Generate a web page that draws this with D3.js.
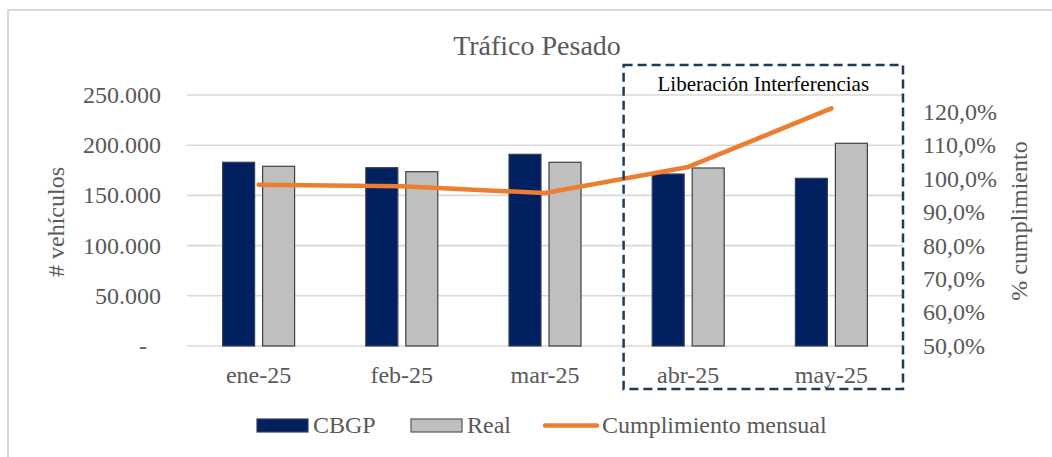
<!DOCTYPE html>
<html>
<head>
<meta charset="utf-8">
<script src="https://cdn.jsdelivr.net/npm/d3@7"></script>
<style>
  body { margin: 0; background: #fff; }
  text { font-family: "Liberation Serif", "Times New Roman", serif; }
</style>
</head>
<body>
<svg width="1052" height="457"></svg>
<script>
// data
const months = ["ene-25", "feb-25", "mar-25", "abr-25", "may-25"];
const cbgp = [183000, 177600, 190900, 171300, 167000];
const real = [179000, 173600, 183000, 177300, 201900];
const cumplimiento = [0.982, 0.977, 0.957, 1.035, 1.210];
const leftTicks = [0, 50000, 100000, 150000, 200000, 250000];
const rightTicks = [0.5, 0.6, 0.7, 0.8, 0.9, 1.0, 1.1, 1.2];
const highlighted = ["abr-25", "may-25"];

const svg = d3.select("svg");
const width = +svg.attr("width");
const height = +svg.attr("height");

// spanish number formats
const es = d3.formatLocale({ decimal: ",", thousands: ".", grouping: [3], currency: ["", ""] });
const fmtNum = es.format(",d");
const fmtPct = es.format(".1%");

const margin = { left: 187, right: 149, top: 95, bottom: 111 };
const plotW = width - margin.left - margin.right;
const y0 = height - margin.bottom;

const x = d3.scaleBand().domain(months).range([margin.left, margin.left + plotW]);
const xSeries = d3.scaleBand().domain(["CBGP", "Real"]).range([-36, 36]).paddingInner(0.2);
const y = d3.scaleLinear().domain([0, 250000]).range([y0, margin.top]);
const y2 = d3.scaleLinear().domain([0.5, 1.25]).range([y0, margin.top]);

const gray = "#595959";

// outer border of the chart area
svg.append("rect")
  .attr("x", 8).attr("y", 10)
  .attr("width", 1200).attr("height", 600)
  .attr("fill", "none").attr("stroke", "#d9d9d9").attr("stroke-width", 2);

// gridlines
svg.append("g").selectAll("line")
  .data(leftTicks)
  .enter().append("line")
    .attr("x1", margin.left).attr("x2", margin.left + plotW)
    .attr("y1", d => y(d)).attr("y2", d => y(d))
    .attr("stroke", "#d9d9d9").attr("stroke-width", 1.6);

// left tick labels
svg.append("g").selectAll("text")
  .data(leftTicks)
  .enter().append("text")
    .attr("x", 161)
    .attr("dx", d => d === 0 ? -14 : 0)
    .attr("y", d => y(d))
    .attr("dy", "0.33em")
    .attr("text-anchor", "end")
    .attr("font-size", 24)
    .attr("fill", gray)
    .text(d => d === 0 ? "-" : fmtNum(d));

// right tick labels
svg.append("g").selectAll("text")
  .data(rightTicks)
  .enter().append("text")
    .attr("x", 923)
    .attr("y", d => y2(d))
    .attr("dy", "0.33em")
    .attr("font-size", 24)
    .attr("fill", gray)
    .text(d => fmtPct(d));

// x labels
svg.append("g").selectAll("text")
  .data(months)
  .enter().append("text")
    .attr("x", d => x(d) + x.bandwidth() / 2)
    .attr("y", 383)
    .attr("text-anchor", "middle")
    .attr("font-size", 24)
    .attr("fill", gray)
    .text(d => d);

// bars
const series = [
  { name: "CBGP", values: cbgp, fill: "#002060", stroke: "#3b3f55" },
  { name: "Real", values: real, fill: "#bfbfbf", stroke: "#404040" }
];

series.forEach(s => {
  svg.append("g").selectAll("rect")
    .data(months)
    .enter().append("rect")
      .attr("x", (d, i) => x(d) + x.bandwidth() / 2 + xSeries(s.name))
      .attr("y", (d, i) => y(s.values[i]))
      .attr("width", xSeries.bandwidth())
      .attr("height", (d, i) => y0 - y(s.values[i]))
      .attr("fill", s.fill)
      .attr("stroke", s.stroke)
      .attr("stroke-width", 1.2);
});

// cumplimiento line
const line = d3.line()
  .x((d, i) => x(months[i]) + x.bandwidth() / 2)
  .y(d => y2(d));

svg.append("path")
  .datum(cumplimiento)
  .attr("d", line)
  .attr("fill", "none")
  .attr("stroke", "#ed7d31")
  .attr("stroke-width", 4.5)
  .attr("stroke-linecap", "round")
  .attr("stroke-linejoin", "round");

// dashed box round the last two months
const boxL = x(highlighted[0]) + 7;
const boxR = x(highlighted[highlighted.length - 1]) + x.bandwidth();
svg.append("rect")
  .attr("x", boxL).attr("y", 65)
  .attr("width", boxR - boxL).attr("height", 324)
  .attr("fill", "none")
  .attr("stroke", "#1f3a5a")
  .attr("stroke-width", 2.5)
  .attr("stroke-dasharray", "9,5");

svg.append("text")
  .attr("x", (boxL + boxR) / 2)
  .attr("y", 91)
  .attr("text-anchor", "middle")
  .attr("font-size", 21)
  .attr("fill", "#000")
  .text("Liberación Interferencias");

// title
svg.append("text")
  .attr("x", 537).attr("y", 55)
  .attr("text-anchor", "middle")
  .attr("font-size", 28)
  .attr("fill", gray)
  .text("Tráfico Pesado");

// axis titles
svg.append("text")
  .attr("transform", "translate(64,222) rotate(-90)")
  .attr("text-anchor", "middle")
  .attr("font-size", 24)
  .attr("fill", gray)
  .text("# vehículos");

svg.append("text")
  .attr("transform", "translate(1027,221) rotate(-90)")
  .attr("text-anchor", "middle")
  .attr("font-size", 24)
  .attr("fill", gray)
  .text("% cumplimiento");

// legend
const legend = svg.append("g");
const legendItems = [
  { label: "CBGP", x: 257, type: "rect", fill: "#002060", stroke: "#3b3f55" },
  { label: "Real", x: 411, type: "rect", fill: "#bfbfbf", stroke: "#595959" },
  { label: "Cumplimiento mensual", x: 543, type: "line", stroke: "#ed7d31" }
];

legendItems.forEach(it => {
  if (it.type === "rect") {
    legend.append("rect")
      .attr("x", it.x).attr("y", 419)
      .attr("width", 51).attr("height", 13)
      .attr("fill", it.fill)
      .attr("stroke", it.stroke)
      .attr("stroke-width", 1.2);
  } else {
    legend.append("line")
      .attr("x1", it.x + 2).attr("x2", it.x + 54)
      .attr("y1", 425.5).attr("y2", 425.5)
      .attr("stroke", it.stroke)
      .attr("stroke-width", 4.5)
      .attr("stroke-linecap", "round");
  }
  legend.append("text")
    .attr("x", it.x + (it.type === "rect" ? 56 : 59))
    .attr("y", 433)
    .attr("font-size", 24)
    .attr("fill", gray)
    .text(it.label);
});
</script>
</body>
</html>
